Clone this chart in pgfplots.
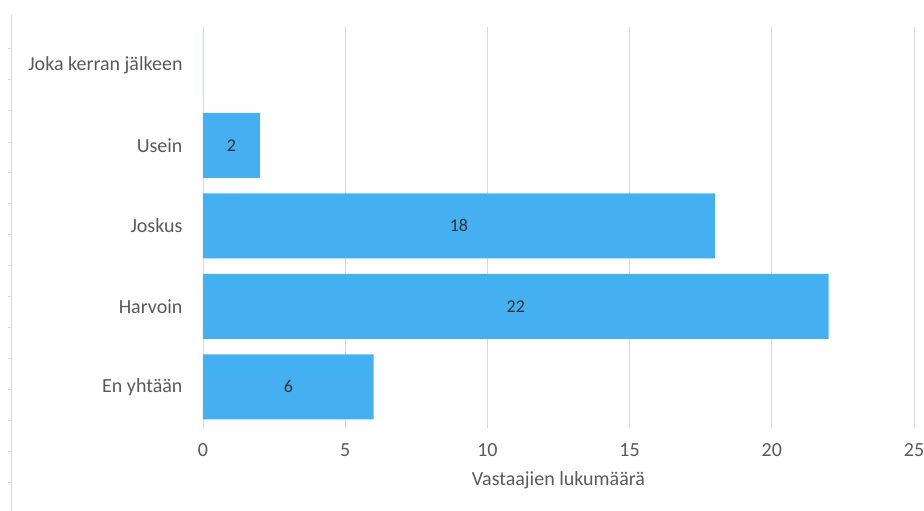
\documentclass[border=0pt]{standalone}
\usepackage{pgfplots}
\pgfplotsset{compat=1.18}
\usepackage{fontspec}
\setmainfont{Carlito}
\definecolor{barblue}{RGB}{69,176,241}
\definecolor{txtgray}{RGB}{89,89,89}
\definecolor{lblgray}{RGB}{51,51,51}
\definecolor{gridgray}{RGB}{217,217,217}
\begin{document}
\begin{tikzpicture}[x=1pt,y=1pt]
\useasboundingbox (0,0) rectangle (924,511);
% decorative left border
\draw[gridgray, line width=0.8pt] (11,0) -- (11,496);
\foreach \yy in {48,79,110,142,172,203,234,265,296,327,358,389,420,451,482}
  \draw[gridgray, line width=0.6pt] (8,511-\yy) -- (11,511-\yy);
\begin{axis}[
  at={(203pt,83pt)}, anchor=south west,
  scale only axis, width=711pt, height=401pt,
  xbar, bar width=65pt,
  xmin=0, xmax=25, ymin=-0.51, ymax=4.47,
  xtick={0,5,10,15,20,25},
  ytick={0,1,2,3,4},
  yticklabels={En yhtään, Harvoin, Joskus, Usein, Joka kerran jälkeen},
  axis line style={draw=none},
  major tick length=0pt,
  xmajorgrids, grid style={gridgray, line width=0.9pt},
  /pgf/number format/assume math mode=true,
  tick label style={font=\fontsize{20}{23}\selectfont, text=txtgray},
  xticklabel style={yshift=-12pt},
  yticklabel style={xshift=-17pt},
  xlabel={Vastaajien lukumäärä},
  xlabel style={font=\fontsize{20}{23}\selectfont, text=txtgray, yshift=-8pt},
  visualization depends on=x \as \rawx,
  nodes near coords={\pgfmathfloattofixed{\pgfplotspointmeta}\ifdim\pgfmathresult pt=0pt\else\pgfmathprintnumber{\pgfplotspointmeta}\fi},
  point meta=x,
  every node near coord/.append style={anchor=center, shift={(axis direction cs:-\rawx/2,0)}, font=\fontsize{18}{21}\selectfont, text=lblgray},
]
\addplot[fill=barblue, draw=none] coordinates {(6,0) (22,1) (18,2) (2,3) (0,4)};
\end{axis}
\end{tikzpicture}
\end{document}
